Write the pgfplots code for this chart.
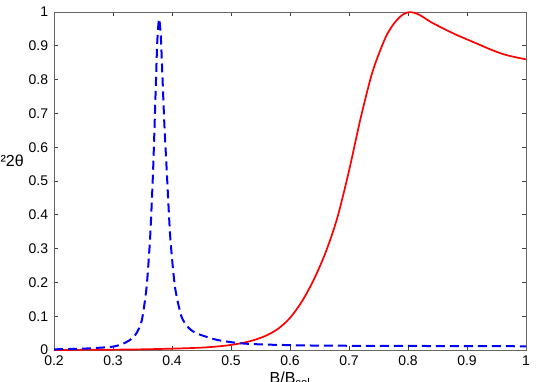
\documentclass[border=0pt]{standalone}
\usepackage{fontspec}
\setmainfont{Liberation Sans}
\usepackage{pgfplots}
\pgfplotsset{compat=1.18}

\begin{document}
\fontsize{14}{16}\selectfont
\begin{tikzpicture}
\begin{axis}[name=ax,at={(0,0)},anchor=south west,
  scale only axis,width=472pt,height=338pt,
  xmin=0.2,xmax=1,ymin=0,ymax=1,
  xtick={0.2,0.3,...,1.0},ytick={0,0.1,...,1.0},
  tick align=inside,major tick length=4pt,
  tick style={black!75,line width=0.6pt},
  axis line style={black!60,line width=0.8pt},
  /pgf/number format/assume math mode=true,
  xticklabel style={yshift=-1pt},
  yticklabel style={xshift=-1pt},
  ylabel={sin²2θ},
  ylabel style={rotate=-90,at={(axis description cs:0,0.56)},anchor=east,inner sep=0pt,xshift=-30pt,font=\fontsize{16}{18}\selectfont},
  xlabel={B/B\textsubscript{col}},
  xlabel style={at={(axis description cs:0.5,0)},anchor=north,inner sep=0pt,yshift=-22pt,font=\fontsize{16}{18}\selectfont},
]
\addplot[red,line width=1.7pt,smooth,tension=0.5] coordinates {
(0.20,0.000) (0.25,0.0005) (0.30,0.001) (0.35,0.002) (0.40,0.004)
(0.45,0.007) (0.48,0.011) (0.50,0.015) (0.52,0.021) (0.54,0.030)
(0.56,0.043) (0.58,0.063) (0.60,0.095) (0.62,0.143) (0.64,0.207)
(0.66,0.287) (0.68,0.390) (0.70,0.530) (0.72,0.688) (0.74,0.824)
(0.76,0.917) (0.77,0.950) (0.78,0.974) (0.79,0.991) (0.80,0.999)
(0.81,0.998) (0.82,0.991) (0.83,0.980) (0.84,0.969) (0.86,0.951)
(0.88,0.934) (0.90,0.919) (0.92,0.904) (0.94,0.889) (0.96,0.876)
(0.98,0.867) (1.00,0.860)};
\addplot[blue,line width=2pt,dash pattern=on 9pt off 5pt,smooth,tension=0.4] coordinates {
(0.200,0.002) (0.250,0.004) (0.280,0.007) (0.300,0.010) (0.315,0.017)
(0.329,0.030) (0.340,0.050) (0.349,0.089) (0.357,0.187) (0.363,0.335)
(0.368,0.533) (0.372,0.750) (0.375,0.910) (0.378,0.980) (0.381,0.930)
(0.384,0.800) (0.387,0.670) (0.391,0.533) (0.397,0.335) (0.405,0.187)
(0.416,0.099) (0.428,0.066) (0.442,0.049) (0.476,0.030) (0.515,0.020)
(0.56,0.016) (0.65,0.013) (0.8,0.012) (1.0,0.011)};
\end{axis}
\pgfresetboundingbox
\path[use as bounding box] (-54pt,-32pt) rectangle (491pt,350pt);
\end{tikzpicture}
\end{document}
